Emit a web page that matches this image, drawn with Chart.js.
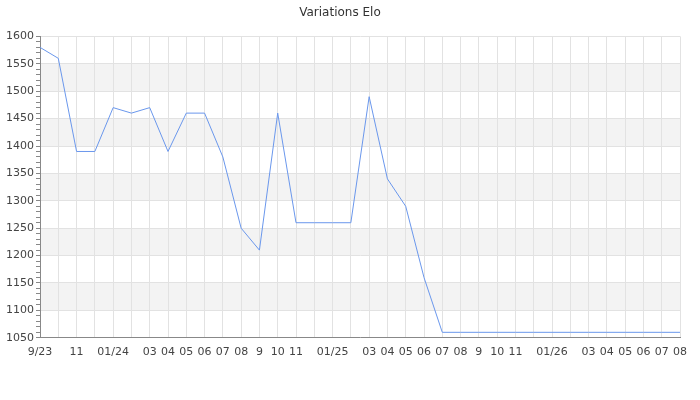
<!DOCTYPE html>
<html>
<head>
<meta charset="utf-8">
<script src="https://cdn.jsdelivr.net/npm/chart.js@4"></script>
<style>
  html, body { margin: 0; padding: 0; background: #fff; }
  #wrap { width: 700px; height: 400px; }
</style>
</head>
<body>
<div id="wrap"><canvas id="eloChart" width="700" height="400"></canvas></div>
<script>
'use strict'

// one label per month, Sep 2023 -> Aug 2026 (empty = not shown)
const months = ['9/23', '', '11', '', '01/24', '', '03', '04', '05', '06', '07', '08',
    '9', '10', '11', '', '01/25', '', '03', '04', '05', '06', '07', '08',
    '9', '10', '11', '', '01/26', '', '03', '04', '05', '06', '07', '08'];

const elo = [1580, 1560, 1390, 1390, 1470, 1460, 1470, 1390, 1460, 1460, 1380, 1250,
    1210, 1460, 1260, 1260, 1260, 1260, 1490, 1340, 1290, 1160, 1060, 1060,
    1060, 1060, 1060, 1060, 1060, 1060, 1060, 1060, 1060, 1060, 1060, 1060];

const grayBands = [[1500, 1550], [1400, 1450], [1300, 1350], [1200, 1250], [1100, 1150]];

Chart.defaults.font.family = '"DejaVu Sans", sans-serif';
Chart.defaults.font.size = 11;
Chart.defaults.color = '#444';

// alternating background stripes, drawn before the grid
const bandsPlugin = {
    id: 'bands',
    beforeDraw(chart) {
        const ctx = chart.ctx;
        const area = chart.chartArea;
        const y = chart.scales.y;
        ctx.save();
        ctx.fillStyle = '#f3f3f3';
        grayBands.forEach(b => {
            let top = y.getPixelForValue(b[1]);
            let bottom = y.getPixelForValue(b[0]);
            ctx.fillRect(area.left, top, area.right - area.left, bottom - top);
        });
        ctx.restore();
    }
};

var ctx = document.getElementById('eloChart').getContext('2d');

var chart = new Chart(ctx, {
    type: 'line',
    data: {
        labels: months,
        datasets: [{
            label: 'Elo',
            data: elo,
            borderColor: '#6a97ec',
            borderWidth: 1,
            pointRadius: 0,
            tension: 0,
            fill: false
        }]
    },
    options: {
        responsive: false,
        animation: false,
        layout: { padding: { left: 0, right: 20, top: 0, bottom: 33 } },
        plugins: {
            legend: { display: false },
            tooltip: { enabled: false },
            title: {
                display: true,
                text: 'Variations Elo',
                color: '#333',
                font: { size: 12, weight: 'normal' },
                padding: { top: 6, bottom: 16 }
            }
        },
        scales: {
            x: {
                offset: false,
                grid: {
                    color: '#e2e2e2',
                    drawTicks: false
                },
                border: { color: '#888' },
                ticks: {
                    autoSkip: false,
                    maxRotation: 0,
                    padding: 8,
                    color: '#444'
                }
            },
            y: {
                min: 1050,
                max: 1600,
                afterFit(scale) { scale.width = 40; },
                grid: {
                    color: c => (c.tick.value % 50 === 0 ? '#e2e2e2' : 'rgba(0,0,0,0)'),
                    tickColor: '#888',
                    tickLength: 4
                },
                border: { color: '#888' },
                ticks: {
                    stepSize: 10,
                    autoSkip: false,
                    padding: 2,
                    color: '#444',
                    callback: v => (v % 50 === 0 ? v : '')
                }
            }
        }
    },
    plugins: [bandsPlugin]
});
</script>
</body>
</html>
